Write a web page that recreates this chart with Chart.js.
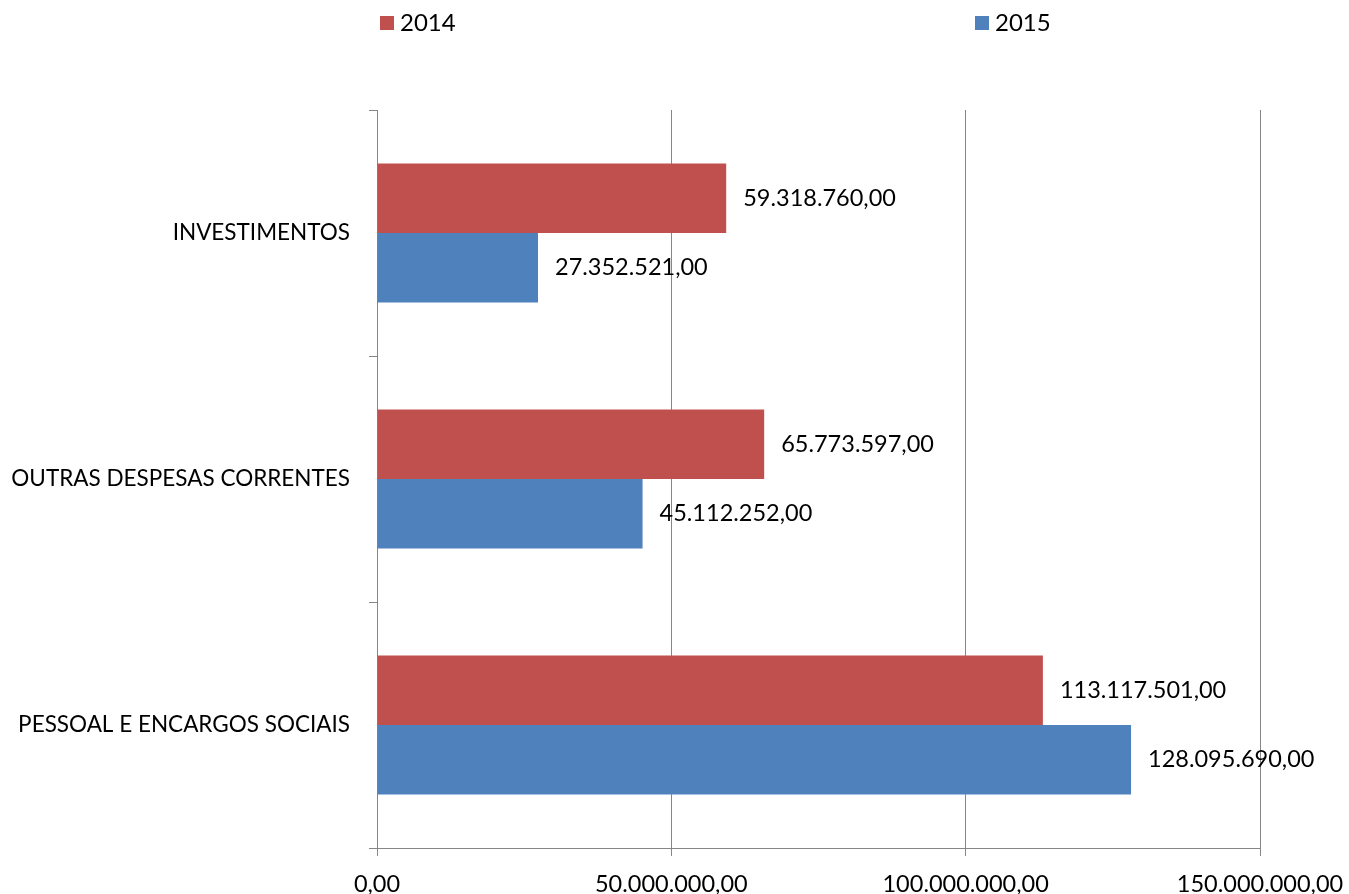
<!DOCTYPE html>
<html>
<head>
<meta charset="utf-8">
<script src="https://cdn.jsdelivr.net/npm/chart.js@4.4.1/dist/chart.umd.min.js"></script>
<style>
  html, body { margin: 0; padding: 0; background: #fff; }
  #chart { display: block; }
</style>
</head>
<body>
<canvas id="chart" width="1349" height="894"></canvas>
<script>
// Despesas por grupo, 2014 x 2015
const categorias = ['INVESTIMENTOS', 'OUTRAS DESPESAS CORRENTES', 'PESSOAL E ENCARGOS SOCIAIS'];
const valores2014 = [59318760.00, 65773597.00, 113117501.00];
const valores2015 = [27352521.00, 45112252.00, 128095690.00];
const ticksX = [0, 50000000, 100000000, 150000000];

const FONTE = 'Lato, "Open Sans", sans-serif';

// formato brasileiro: 1.234.567,00
function formatar(v) {
    const partes = v.toFixed(2).split('.');
    const inteiro = partes[0].replace(/\B(?=(\d{3})+(?!\d))/g, '.');
    return inteiro + ',' + partes[1];
}

// rótulos de valor à direita de cada barra
const rotulosPlugin = {
    id: 'rotulos',
    afterDatasetsDraw(chart) {
        const ctx = chart.ctx;
        ctx.save();
        ctx.font = '23.5px ' + FONTE;
        ctx.fillStyle = '#000';
        ctx.textAlign = 'left';
        ctx.textBaseline = 'middle';
        chart.data.datasets.forEach((ds, i) => {
            chart.getDatasetMeta(i).data.forEach((bar, j) => {
                ctx.fillText(formatar(ds.data[j]), bar.x + 17, bar.y);
            });
        });
        ctx.restore();
    }
};

// legenda espaçada no topo, como no original
const legendaPlugin = {
    id: 'legenda',
    afterDraw(chart) {
        const ctx = chart.ctx;
        const posicoes = [380, 975];
        ctx.save();
        ctx.font = '24px ' + FONTE;
        ctx.textBaseline = 'middle';
        chart.data.datasets.forEach((ds, i) => {
            const x = posicoes[i];
            ctx.fillStyle = ds.backgroundColor;
            ctx.fillRect(x, 16, 14, 14);
            ctx.fillStyle = '#000';
            ctx.fillText(ds.label, x + 20, 23);
        });
        ctx.restore();
    }
};

const ctx1 = document.getElementById('chart').getContext('2d');
const chart1 = new Chart(ctx1, {
    type: 'bar',
    data: {
        labels: categorias,
        datasets: [{
            label: '2014',
            data: valores2014,
            backgroundColor: '#C0504D',
            categoryPercentage: 0.565,
            barPercentage: 1.0
        }, {
            label: '2015',
            data: valores2015,
            backgroundColor: '#4F81BD',
            categoryPercentage: 0.565,
            barPercentage: 1.0
        }]
    },
    options: {
        indexAxis: 'y',
        responsive: false,
        animation: false,
        layout: {
            padding: { top: 110, right: 89, bottom: 0, left: 0 }
        },
        plugins: {
            legend: { display: false },
            tooltip: { enabled: false }
        },
        scales: {
            x: {
                min: 0,
                max: 150000000,
                afterBuildTicks(scale) {
                    scale.ticks = ticksX.map(v => ({ value: v }));
                },
                afterFit(scale) {
                    scale.height = 46;
                    scale.paddingLeft = 0;
                    scale.paddingRight = 0;
                },
                grid: {
                    color: '#868686',
                    lineWidth: 1,
                    drawTicks: true,
                    tickLength: 8
                },
                border: { color: '#868686', width: 1 },
                ticks: {
                    color: '#000',
                    padding: 14,
                    maxRotation: 0,
                    font: { size: 23.5, family: FONTE },
                    callback: v => formatar(v)
                }
            },
            y: {
                afterFit(scale) {
                    scale.width = 377;
                },
                grid: {
                    drawOnChartArea: false,
                    drawTicks: true,
                    tickLength: 8,
                    color: '#868686'
                },
                border: { color: '#868686', width: 1 },
                ticks: {
                    color: '#000',
                    padding: 19,
                    font: { size: 22.5, family: FONTE }
                }
            }
        }
    },
    plugins: [rotulosPlugin, legendaPlugin]
});
</script>
</body>
</html>
